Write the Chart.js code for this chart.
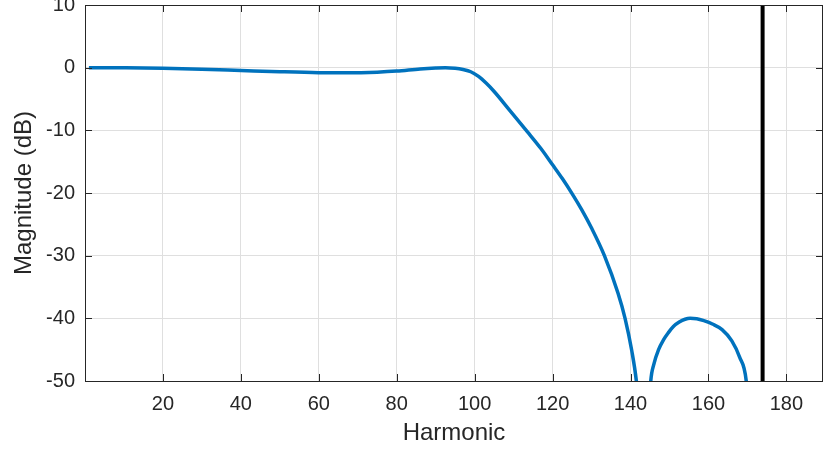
<!DOCTYPE html>
<html>
<head>
<meta charset="utf-8">
<script src="https://cdn.jsdelivr.net/npm/chart.js@4.4.1/dist/chart.umd.min.js"></script>
<style>
  html, body { margin: 0; padding: 0; background: #ffffff; }
  #wrap { width: 824px; height: 451px; }
</style>
</head>
<body>
<div id="wrap"><canvas id="c" width="824" height="451"></canvas></div>
<script>
// ---- data ----
const harmonic = [1, 10, 20, 30, 40, 50, 60, 67, 75, 80, 86, 90, 92.5, 95, 97, 99, 101, 103, 105, 109, 113.5, 117, 120, 122.5, 125, 127.5, 130, 133.3, 136.8, 138.6, 140.3, 141.5, 142.5, 143.5, 144.3, 145.2, 146, 147.2, 148.5, 149.7, 151, 152.5, 154, 155.3, 157, 159, 161, 163.5, 166, 168, 169.7, 170.5, 171.5];
const magnitudeDb = [0, -0.03, -0.1, -0.25, -0.45, -0.65, -0.8, -0.82, -0.72, -0.55, -0.2, -0.05, 0, -0.1, -0.3, -0.65, -1.4, -2.5, -3.8, -6.8, -10.2, -12.9, -15.5, -17.7, -20.1, -22.7, -25.6, -30, -36, -40, -45.1, -50, -57, -75, -60, -50, -47.3, -45.0, -43.4, -42.3, -41.3, -40.6, -40.15, -40, -40.05, -40.4, -40.9, -41.8, -43.6, -46.2, -50, -57, -70];
const cutoffHarmonic = [173.9];
const xTickValues = [20, 40, 60, 80, 100, 120, 140, 160, 180];
const yTickValues = [-50, -40, -30, -20, -10, 0, 10];
const xRange = [0, 189.4];
const yRange = [-50, 10];

const FONT = "'Liberation Sans', Arial, Helvetica, sans-serif";
const AXIS_COLOR = '#262626';
const GRID_COLOR = '#dfdfdf';

const boxPlugin = {
  id: 'box',
  afterDraw(chart) {
    const {ctx, chartArea: a, scales} = chart;
    const tl = 7;
    ctx.save();
    ctx.strokeStyle = AXIS_COLOR;
    ctx.lineWidth = 1;
    ctx.beginPath();
    xTickValues.forEach(v => {
      const px = Math.round(scales.x.getPixelForValue(v)) + 0.5;
      ctx.moveTo(px, a.bottom); ctx.lineTo(px, a.bottom - tl);
      ctx.moveTo(px, a.top); ctx.lineTo(px, a.top + tl);
    });
    yTickValues.forEach(v => {
      const py = Math.round(scales.y.getPixelForValue(v)) + 0.5;
      ctx.moveTo(a.left, py); ctx.lineTo(a.left + tl, py);
      ctx.moveTo(a.right, py); ctx.lineTo(a.right - tl, py);
    });
    ctx.stroke();
    ctx.strokeRect(Math.round(a.left) + 0.5, Math.round(a.top) + 0.5,
                   Math.round(a.right - a.left) - 1, Math.round(a.bottom - a.top));
    ctx.restore();
  }
};

function noEdgePadding(s) {
  s.paddingTop = 0; s.paddingBottom = 0; s.paddingLeft = 0; s.paddingRight = 0;
}

new Chart(document.getElementById('c'), {
  type: 'line',
  data: {
    datasets: [
      {
        data: harmonic.map((x, i) => ({x: x, y: magnitudeDb[i]})),
        borderColor: '#0072BD',
        borderWidth: 3.5,
        pointRadius: 0,
        cubicInterpolationMode: 'monotone',
        fill: false,
        clip: 0
      },
      {
        data: [{x: cutoffHarmonic[0], y: yRange[0]}, {x: cutoffHarmonic[0], y: yRange[1]}],
        borderColor: '#000000',
        borderWidth: 4,
        pointRadius: 0,
        fill: false,
        clip: 3
      }
    ]
  },
  options: {
    responsive: false,
    devicePixelRatio: 1,
    animation: false,
    layout: { padding: { top: 5, right: 1, bottom: 0, left: 0 } },
    plugins: { legend: { display: false }, tooltip: { enabled: false } },
    scales: {
      x: {
        type: 'linear',
        min: xRange[0],
        max: xRange[1],
        afterBuildTicks: s => { s.ticks = xTickValues.map(v => ({value: v})); },
        afterFit: s => { s.height = 70; noEdgePadding(s); },
        grid: { color: GRID_COLOR, drawTicks: false },
        border: { display: false },
        ticks: { font: { family: FONT, size: 20 }, color: AXIS_COLOR, padding: 11, maxRotation: 0, autoSkip: false },
        title: { display: true, text: 'Harmonic', font: { family: FONT, size: 24 }, color: AXIS_COLOR, padding: { top: 0, bottom: 3 } }
      },
      y: {
        type: 'linear',
        min: yRange[0],
        max: yRange[1],
        afterBuildTicks: s => { s.ticks = yTickValues.map(v => ({value: v})); },
        afterFit: s => { s.width = 85; noEdgePadding(s); },
        grid: { color: GRID_COLOR, drawTicks: false },
        border: { display: false },
        ticks: { font: { family: FONT, size: 20 }, color: AXIS_COLOR, padding: 10, autoSkip: false },
        title: { display: true, text: 'Magnitude (dB)', font: { family: FONT, size: 24 }, color: AXIS_COLOR, padding: { top: 10, bottom: 0 } }
      }
    }
  },
  plugins: [boxPlugin]
});
</script>
</body>
</html>
